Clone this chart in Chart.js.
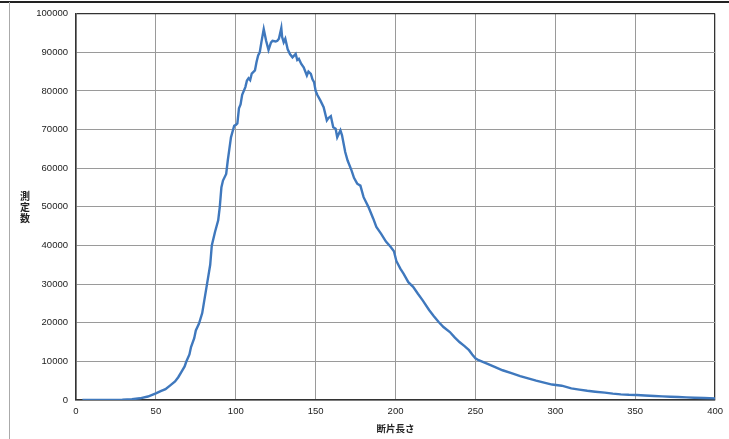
<!DOCTYPE html>
<html>
<head>
<meta charset="utf-8">
<script src="https://cdn.jsdelivr.net/npm/chart.js@4/dist/chart.umd.min.js"></script>
<style>
  html, body { margin: 0; padding: 0; background: #ffffff; }
  #wrap { width: 729px; height: 439px; position: relative; }
</style>
</head>
<body>
<div id="wrap"><canvas id="c" width="729" height="439"></canvas></div>
<script>
const lengths = [4,10,20,29,35,40,45,50,53,56,59,62,64,66,68,69,71,72,74,75,77,79,80,82,84,85,87,89,90,91,92,94,95,96,97,99,100,101,102,103,104,106,107,108,109,110,112,113,114,115,116,117.5,119,120.5,122,123,125,126,127,128.5,129,130,131,132.5,134,135.5,137.5,138.5,139.5,141,142.5,144.5,145.5,147,148,149,150,151,153,155,157,158,159.5,161,162.5,163.5,165.5,166.5,168.5,170,172.5,174,176,178,180,183,186,188,191,194,197,199,200.5,203,205,208,211,214,217,221,224,227,230,234,237,240,243,246,248,250,252,255,258,262,267,273,278,283,288,293,298,304,310,315,320,325,331,336,341,346,351,356,362,367,372,377,382,387,393,400];
const counts = [0,0,0,50,200,440,900,1730,2300,2800,3800,4800,5900,7300,8700,9900,11800,13700,16000,18000,19800,22500,25000,30000,35000,40000,43500,46500,50000,55000,56800,58500,62000,65000,68000,71000,71200,71600,75500,76500,79000,81000,82700,83300,82800,84500,85300,87500,89200,90000,92500,96000,93000,90600,92500,93000,92800,93000,93500,96300,94000,92600,93500,90800,89500,88700,89600,88000,88300,87000,86100,84000,85000,84400,83000,82300,80000,79000,77500,75800,72400,73000,73500,70600,70200,68000,69800,68500,64200,62000,59400,57500,56000,55500,52500,50000,47000,44800,43000,41000,39600,38500,36000,34000,32700,30500,29300,27500,25800,23300,21700,20200,18900,17600,16200,15000,14000,12900,11800,10800,10300,9800,9300,8600,7700,6900,6200,5600,5000,4500,4000,3700,3000,2700,2400,2150,1900,1650,1460,1350,1290,1150,1030,940,860,780,690,600,520,430];
const xTicks = [0,50,100,150,200,250,300,350,400];
const yTicks = [0,10000,20000,30000,40000,50000,60000,70000,80000,90000,100000];
const xTitle = '断片長さ';
const yTitle = '測定数';

const points = lengths.map((x, i) => ({ x: x, y: counts[i] }));

const framePlugin = {
  id: 'frame',
  beforeDraw(chart) {
    const ctx = chart.ctx;
    ctx.save();
    ctx.fillStyle = '#ffffff';
    ctx.fillRect(0, 0, chart.width, chart.height);
    ctx.strokeStyle = '#222';
    ctx.lineWidth = 2;
    ctx.beginPath(); ctx.moveTo(0, 2); ctx.lineTo(chart.width, 2); ctx.stroke();
    ctx.strokeStyle = '#aaa';
    ctx.lineWidth = 1;
    ctx.beginPath(); ctx.moveTo(9.5, 2); ctx.lineTo(9.5, chart.height); ctx.stroke();
    ctx.restore();
  },
  afterDraw(chart) {
    const ctx = chart.ctx;
    ctx.save();
    ctx.setTransform(1, 0, 0, 1, 0, 0);
    ctx.fillStyle = '#222';
    ctx.font = '600 10px "Noto Sans CJK JP", "Noto Sans CJK SC", sans-serif';
    ctx.textAlign = 'center';
    ctx.textBaseline = 'middle';
    const chars = Array.from(yTitle);
    const cy = 207, step = 11;
    chars.forEach((ch, i) => {
      ctx.fillText(ch, 25, cy + (i - (chars.length - 1) / 2) * step);
    });
    ctx.restore();
  }
};

new Chart(document.getElementById('c'), {
  type: 'scatter',
  data: {
    datasets: [{
      data: points,
      showLine: true,
      borderColor: '#3f78bd',
      borderWidth: 2.4,
      pointRadius: 0,
      tension: 0,
      fill: false
    }]
  },
  options: {
    responsive: false,
    animation: false,
    devicePixelRatio: 1,
    layout: { padding: { left: 0, right: 7, top: 13, bottom: 0 } },
    plugins: { legend: { display: false }, tooltip: { enabled: false } },
    scales: {
      x: {
        type: 'linear',
        min: 0, max: 400,
        afterBuildTicks: s => { s.ticks = xTicks.map(v => ({ value: v })); },
        afterFit: s => { s.height = 39; },
        ticks: { color: '#222', font: { family: 'Liberation Sans', size: 9.5 }, padding: 6 },
        grid: {
          color: ctx => (ctx.tick && (ctx.tick.value === 400 || ctx.tick.value === 0)) ? '#333' : '#9a9a9a',
          lineWidth: ctx => (ctx.tick && (ctx.tick.value === 400 || ctx.tick.value === 0)) ? 1.3 : 1,
          drawTicks: false
        },
        border: { color: '#333', width: 1.5 },
        title: { display: true, text: xTitle, color: '#222', font: { family: 'Noto Sans CJK JP', size: 9.5, weight: '600' }, padding: { top: 0, bottom: 5 } }
      },
      y: {
        type: 'linear',
        min: 0, max: 100000,
        afterBuildTicks: s => { s.ticks = yTicks.map(v => ({ value: v })); },
        afterFit: s => { s.width = 76; },
        ticks: { color: '#222', font: { family: 'Liberation Sans', size: 9.5 }, padding: 8, callback: v => String(v) },
        grid: {
          color: ctx => (ctx.tick && (ctx.tick.value === 100000 || ctx.tick.value === 0)) ? '#333' : '#9a9a9a',
          lineWidth: ctx => (ctx.tick && (ctx.tick.value === 100000 || ctx.tick.value === 0)) ? 1.3 : 1,
          drawTicks: false
        },
        border: { color: '#333', width: 1.5 }
      }
    }
  },
  plugins: [framePlugin]
});
</script>
</body>
</html>
